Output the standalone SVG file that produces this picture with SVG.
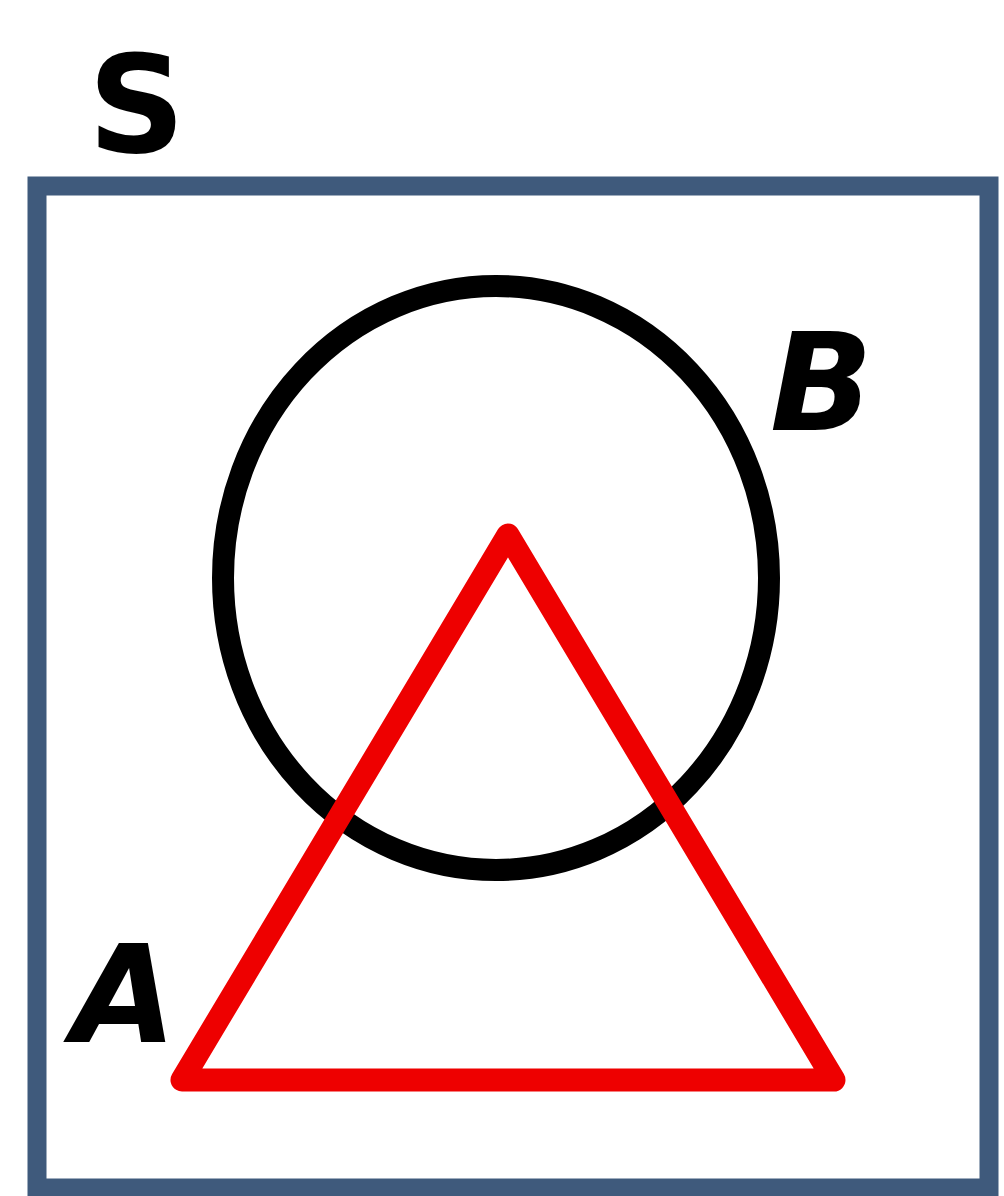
<svg xmlns="http://www.w3.org/2000/svg" width="1004" height="1196" viewBox="0 0 1004 1196">
<style>
.lbl{font-family:"DejaVu Sans",sans-serif;font-style:italic;font-weight:bold;font-size:135px;fill:#000;}
</style>
<rect width="1004" height="1196" fill="#fff"/>
<g id="S">
<rect x="37" y="186" width="952" height="1002" fill="#fff" stroke="#3f5a7c" stroke-width="19"/>
<text class="lbl" x="88" y="152" style="font-style:normal">S</text>
</g>
<g id="B">
<ellipse cx="496" cy="578" rx="273" ry="292" fill="none" stroke="#000" stroke-width="22"/>
<text class="lbl" x="770" y="430">B</text>
</g>
<g id="A">
<polygon points="508,535 182,1080 834,1080" fill="none" stroke="#ee0000" stroke-width="23" stroke-linejoin="round"/>
<text class="lbl" x="72" y="1042">A</text>
</g>
<g id="connectors"/>
</svg>
